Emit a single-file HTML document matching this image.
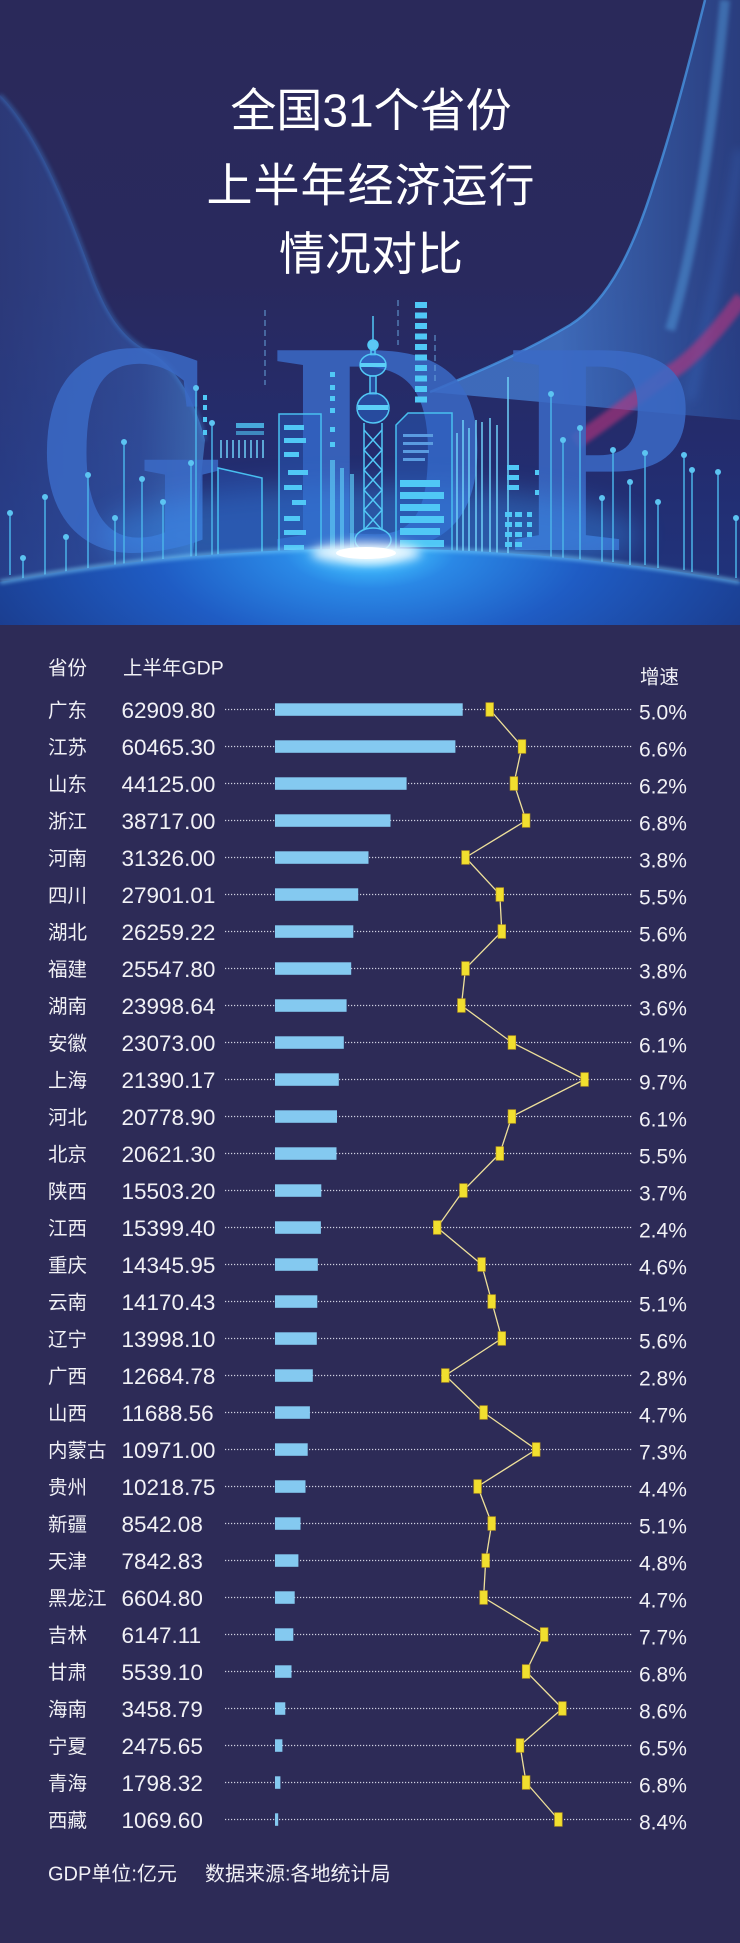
<!DOCTYPE html>
<html><head><meta charset="utf-8">
<style>
html,body{margin:0;padding:0;background:#2d2b57;}
svg{display:block;}
</style></head><body>
<svg width="740" height="1943" viewBox="0 0 740 1943" xmlns="http://www.w3.org/2000/svg">
<defs>
<style>
.t{font-family:"Liberation Sans","Noto Sans CJK SC",sans-serif;fill:#ffffff;}
.p{font-family:"Liberation Sans","Noto Sans CJK SC",sans-serif;font-size:19.5px;fill:#f1f1f6;}
.n{font-family:"Liberation Sans","Noto Sans CJK SC",sans-serif;font-size:22.5px;fill:#f1f1f6;}
.g{font-family:"Liberation Sans","Noto Sans CJK SC",sans-serif;font-size:21px;fill:#f1f1f6;}
.d{stroke:#cfd0e2;stroke-width:1.2;stroke-dasharray:1.2 1.8;}
.b{fill:#84c9f0;}
.m{fill:#f1df2f;stroke:#c4a21e;stroke-width:.7;}
.pin{stroke:#4ab2e8;stroke-width:1.5;}
.pd{fill:#5cc4f2;}
.w{fill:#50c8f6;}
</style>
<linearGradient id="hbg" x1="0" y1="0" x2="0" y2="626" gradientUnits="userSpaceOnUse">
<stop offset="0" stop-color="#2a295a"/>
<stop offset="0.45" stop-color="#29295e"/>
<stop offset="0.75" stop-color="#232d70"/>
<stop offset="1" stop-color="#1f3580"/>
</linearGradient>
<radialGradient id="ground" gradientUnits="userSpaceOnUse" cx="370" cy="550" r="430" gradientTransform="translate(370,550) scale(1,0.45) translate(-370,-550)">
<stop offset="0" stop-color="#ffffff"/>
<stop offset="0.04" stop-color="#8fe0ff"/>
<stop offset="0.1" stop-color="#3ab0f8"/>
<stop offset="0.2" stop-color="#2a88e6"/>
<stop offset="0.5" stop-color="#1f5cc4"/>
<stop offset="1" stop-color="#1a3a8a"/>
</radialGradient>
<linearGradient id="lw" x1="0" y1="0" x2="200" y2="0" gradientUnits="userSpaceOnUse">
<stop offset="0" stop-color="#3050a0" stop-opacity="0.4"/>
<stop offset="0.7" stop-color="#3a68c0" stop-opacity="0.5"/>
<stop offset="1" stop-color="#4a8ad8" stop-opacity="0.6"/>
</linearGradient>
<linearGradient id="rw" x1="560" y1="0" x2="740" y2="0" gradientUnits="userSpaceOnUse">
<stop offset="0" stop-color="#4a8ce6" stop-opacity="0.65"/>
<stop offset="0.45" stop-color="#3c78d0" stop-opacity="0.55"/>
<stop offset="1" stop-color="#2a56aa" stop-opacity="0.45"/>
</linearGradient>
<filter id="bl2" x="-20%" y="-20%" width="140%" height="140%"><feGaussianBlur stdDeviation="2"/></filter>
<filter id="bl5" x="-50%" y="-50%" width="200%" height="200%"><feGaussianBlur stdDeviation="5"/></filter>
<filter id="bl14" x="-50%" y="-80%" width="200%" height="260%"><feGaussianBlur stdDeviation="14"/></filter>
<clipPath id="hc"><rect x="0" y="0" width="740" height="625"/></clipPath>
</defs>

<rect width="740" height="1943" fill="#2d2b57"/>

<!-- ========== HEADER ========== -->
<g clip-path="url(#hc)">
<rect x="0" y="0" width="740" height="626" fill="url(#hbg)"/>

<!-- left mesh wave -->
<path d="M0,95 C35,130 65,200 92,275 C108,318 125,340 150,352 C175,365 195,400 205,440 L190,580 L0,580 Z" fill="url(#lw)"/>
<path d="M0,95 C35,130 65,200 92,275 C108,318 125,340 150,352 C175,365 195,400 205,440" fill="none" stroke="#3f86d8" stroke-width="2.5" opacity="0.7" filter="url(#bl2)"/>

<!-- right mesh wave -->
<path d="M705,0 C690,60 672,130 655,180 C635,245 610,300 570,325 C520,355 470,375 430,392 L740,420 L740,0 Z" fill="url(#rw)"/>
<path d="M705,0 C690,60 672,130 655,180 C635,245 610,300 570,325 C520,355 470,375 430,392" fill="none" stroke="#4a9ae8" stroke-width="2.5" opacity="0.75"/>
<path d="M725,0 C715,100 700,230 670,330" fill="none" stroke="#5ab0f0" stroke-width="10" opacity="0.4" filter="url(#bl2)"/>
<path d="M740,150 C725,250 705,330 690,400" fill="none" stroke="#3a70c8" stroke-width="10" opacity="0.3" filter="url(#bl5)"/>

<!-- pink ribbon -->
<path d="M575,442 C620,412 650,386 680,366 C705,346 725,320 742,298" fill="none" stroke="#c8347e" stroke-width="15" opacity="0.55" filter="url(#bl2)"/>

<!-- Title -->
<text class="t" x="371" y="126.5" font-size="46" text-anchor="middle">全国31个省份</text>
<text class="t" x="371" y="201.5" font-size="46" text-anchor="middle" letter-spacing="1">上半年经济运行</text>
<text class="t" x="371" y="270" font-size="46" text-anchor="middle">情况对比</text>

<!-- GDP letters -->
<g font-family="'Liberation Serif',serif" font-weight="bold" font-size="305" fill="#3b6ac6" fill-opacity="0.85">
<text transform="translate(35,550) scale(0.8,1)" x="0" y="0">G</text>
<text x="272" y="550">D</text>
<text x="508" y="550">P</text>
</g>

<!-- haze above horizon -->
<ellipse cx="370" cy="535" rx="270" ry="50" fill="#3aa0ff" opacity="0.35" filter="url(#bl14)"/>

<!-- pins -->
<g>
<line class="pin" x1="10" y1="513" x2="10" y2="575"/><circle class="pd" cx="10" cy="513" r="3"/>
<line class="pin" x1="23" y1="558" x2="23" y2="585"/><circle class="pd" cx="23" cy="558" r="3"/>
<line class="pin" x1="45" y1="497" x2="45" y2="575"/><circle class="pd" cx="45" cy="497" r="3"/>
<line class="pin" x1="66" y1="537" x2="66" y2="575"/><circle class="pd" cx="66" cy="537" r="3"/>
<line class="pin" x1="88" y1="475" x2="88" y2="570"/><circle class="pd" cx="88" cy="475" r="3"/>
<line class="pin" x1="124" y1="442" x2="124" y2="565"/><circle class="pd" cx="124" cy="442" r="3"/>
<line class="pin" x1="115" y1="518" x2="115" y2="565"/><circle class="pd" cx="115" cy="518" r="3"/>
<line class="pin" x1="142" y1="479" x2="142" y2="565"/><circle class="pd" cx="142" cy="479" r="3"/>
<line class="pin" x1="163" y1="502" x2="163" y2="560"/><circle class="pd" cx="163" cy="502" r="3"/>
<line class="pin" x1="191" y1="463" x2="191" y2="560"/><circle class="pd" cx="191" cy="463" r="3"/>
<line class="pin" x1="196" y1="388" x2="196" y2="560"/><circle class="pd" cx="196" cy="388" r="3"/>
<line class="pin" x1="212" y1="423" x2="212" y2="560"/><circle class="pd" cx="212" cy="423" r="3"/>
<line class="pin" x1="551" y1="394" x2="551" y2="560"/><circle class="pd" cx="551" cy="394" r="3"/>
<line class="pin" x1="563" y1="440" x2="563" y2="560"/><circle class="pd" cx="563" cy="440" r="3"/>
<line class="pin" x1="580" y1="428" x2="580" y2="560"/><circle class="pd" cx="580" cy="428" r="3"/>
<line class="pin" x1="602" y1="498" x2="602" y2="562"/><circle class="pd" cx="602" cy="498" r="3"/>
<line class="pin" x1="613" y1="450" x2="613" y2="562"/><circle class="pd" cx="613" cy="450" r="3"/>
<line class="pin" x1="630" y1="482" x2="630" y2="565"/><circle class="pd" cx="630" cy="482" r="3"/>
<line class="pin" x1="645" y1="453" x2="645" y2="565"/><circle class="pd" cx="645" cy="453" r="3"/>
<line class="pin" x1="658" y1="502" x2="658" y2="568"/><circle class="pd" cx="658" cy="502" r="3"/>
<line class="pin" x1="684" y1="455" x2="684" y2="570"/><circle class="pd" cx="684" cy="455" r="3"/>
<line class="pin" x1="692" y1="470" x2="692" y2="572"/><circle class="pd" cx="692" cy="470" r="3"/>
<line class="pin" x1="718" y1="472" x2="718" y2="575"/><circle class="pd" cx="718" cy="472" r="3"/>
<line class="pin" x1="736" y1="518" x2="736" y2="578"/><circle class="pd" cx="736" cy="518" r="3"/>
</g>

<!-- dashed vertical lines -->
<g stroke="#6aa8e0" stroke-width="1.2" stroke-dasharray="6 4" opacity="0.8">
<line x1="265" y1="310" x2="265" y2="385"/>
<line x1="398" y1="300" x2="398" y2="345"/>
<line x1="435" y1="335" x2="435" y2="385"/>
</g>

<!-- Building C (left) -->
<path d="M218,560 L218,468 L262,478 L262,560 Z" fill="#2a5cc0" fill-opacity="0.4" stroke="#48bff0" stroke-width="1.5"/>
<g stroke="#6fd0f8" stroke-width="1.5">
<line x1="221" y1="440" x2="221" y2="458"/><line x1="227" y1="440" x2="227" y2="458"/>
<line x1="233" y1="440" x2="233" y2="458"/><line x1="239" y1="440" x2="239" y2="458"/>
<line x1="245" y1="440" x2="245" y2="458"/><line x1="251" y1="440" x2="251" y2="458"/>
<line x1="257" y1="440" x2="257" y2="458"/><line x1="263" y1="440" x2="263" y2="458"/>
</g>
<rect class="w" x="236" y="423" width="28" height="5" opacity="0.8"/>
<rect class="w" x="236" y="431" width="28" height="4" opacity="0.6"/>
<g class="w">
<rect x="203" y="395" width="4" height="5"/><rect x="203" y="405" width="4" height="5"/>
<rect x="203" y="417" width="4" height="5"/><rect x="203" y="430" width="4" height="5"/>
</g>

<!-- Building A -->
<rect x="279" y="414" width="42" height="150" fill="#2a5fc0" fill-opacity="0.45" stroke="#48bff0" stroke-width="1.5"/>
<g class="w">
<rect x="284" y="425" width="20" height="5"/>
<rect x="284" y="438" width="22" height="5"/>
<rect x="284" y="452" width="15" height="5"/>
<rect x="288" y="470" width="20" height="5"/>
<rect x="284" y="485" width="18" height="5"/>
<rect x="292" y="500" width="14" height="5"/>
<rect x="284" y="516" width="16" height="5"/>
<rect x="284" y="530" width="22" height="5"/>
<rect x="284" y="545" width="20" height="5"/>
</g>
<!-- window column -->
<g class="w">
<rect x="330" y="372" width="5" height="5"/><rect x="330" y="385" width="5" height="5"/>
<rect x="330" y="396" width="5" height="5"/><rect x="330" y="408" width="5" height="5"/>
<rect x="330" y="427" width="5" height="5"/><rect x="330" y="442" width="5" height="5"/>
</g>
<g fill="#5cc8f4" opacity="0.7">
<rect x="330" y="460" width="5" height="100"/>
<rect x="340" y="468" width="4" height="92"/>
<rect x="350" y="474" width="4" height="86"/>
</g>

<!-- Tower -->
<g stroke="#52c8f6" stroke-width="1.5" fill="#2a66c8" fill-opacity="0.55">
<line x1="373" y1="316" x2="373" y2="340"/>
<circle cx="373" cy="345" r="5" fill="#5cc8f4" fill-opacity="1"/>
<rect x="371" y="350" width="4" height="5"/>
<ellipse cx="373" cy="365" rx="13" ry="11"/>
<rect x="370" y="376" width="6" height="18"/>
<ellipse cx="373" cy="408" rx="16" ry="15"/>
<line x1="364" y1="423" x2="364" y2="530"/>
<line x1="382" y1="423" x2="382" y2="530"/>
<path d="M364,430 L382,450 L364,470 L382,490 L364,510 L382,530 M382,430 L364,450 L382,470 L364,490 L382,510 L364,530" fill="none"/>
<ellipse cx="373" cy="540" rx="18" ry="12"/>
</g>
<rect x="360" y="363" width="26" height="4" fill="#5cd0f8"/>
<rect x="358" y="405" width="30" height="5" fill="#5cd0f8"/>

<!-- Window stack -->
<g class="w">
<rect x="415" y="302" width="12" height="6"/><rect x="415" y="312.5" width="12" height="6"/>
<rect x="415" y="323" width="12" height="6"/><rect x="415" y="333.5" width="12" height="6"/>
<rect x="415" y="344" width="12" height="6"/><rect x="415" y="354.5" width="12" height="6"/>
<rect x="415" y="365" width="12" height="6"/><rect x="415" y="375.5" width="12" height="6"/>
<rect x="415" y="386" width="12" height="6"/><rect x="415" y="396.5" width="12" height="6"/>
</g>

<!-- Building B -->
<path d="M396,562 L396,425 L408,413 L452,413 L452,562 Z" fill="#2a62c4" fill-opacity="0.45" stroke="#48bff0" stroke-width="1.5"/>
<g fill="#5a9be0">
<rect x="403" y="434" width="30" height="3"/><rect x="403" y="442" width="30" height="3"/>
<rect x="403" y="450" width="26" height="3"/><rect x="403" y="458" width="22" height="3"/>
</g>
<g class="w">
<rect x="400" y="480" width="40" height="7"/><rect x="400" y="492" width="44" height="7"/>
<rect x="400" y="504" width="40" height="7"/><rect x="400" y="516" width="44" height="7"/>
<rect x="400" y="528" width="40" height="7"/><rect x="400" y="540" width="44" height="7"/>
<rect x="400" y="552" width="40" height="7"/>
</g>
<!-- line cluster -->
<g stroke="#6fd0f8" stroke-width="1.5">
<line x1="457" y1="433" x2="457" y2="560"/><line x1="463" y1="420" x2="463" y2="560"/>
<line x1="469" y1="428" x2="469" y2="560"/><line x1="476" y1="420" x2="476" y2="560"/>
<line x1="482" y1="422" x2="482" y2="560"/><line x1="490" y1="418" x2="490" y2="560"/>
<line x1="497" y1="425" x2="497" y2="560"/>
<line x1="508" y1="377" x2="508" y2="560"/>
</g>
<!-- Building D -->
<g class="w">
<rect x="507" y="465" width="12" height="5"/><rect x="507" y="475" width="12" height="5"/>
<rect x="507" y="485" width="12" height="5"/>
<rect x="505" y="512" width="7" height="5"/><rect x="515" y="512" width="7" height="5"/><rect x="527" y="512" width="5" height="5"/>
<rect x="505" y="522" width="7" height="5"/><rect x="515" y="522" width="7" height="5"/><rect x="527" y="522" width="5" height="5"/>
<rect x="505" y="532" width="7" height="5"/><rect x="515" y="532" width="7" height="5"/><rect x="527" y="532" width="5" height="5"/>
<rect x="505" y="542" width="7" height="5"/><rect x="515" y="542" width="7" height="5"/>
<rect x="535" y="470" width="4" height="5"/><rect x="535" y="490" width="4" height="5"/>
</g>

<!-- ground -->
<path d="M0,582 Q370,515 740,582 L740,630 L0,630 Z" fill="url(#ground)"/>
<path d="M0,582 Q370,515 740,582" fill="none" stroke="#7fd8ff" stroke-width="3" opacity="0.8" filter="url(#bl2)"/>
<ellipse cx="366" cy="553" rx="55" ry="11" fill="#ffffff" opacity="0.85" filter="url(#bl5)"/>
<ellipse cx="366" cy="553" rx="30" ry="6" fill="#ffffff"/>
</g>

<!-- ========== CHART ========== -->
<text class="p" x="48" y="674.4">省份</text>
<text class="p" x="123" y="674.4">上半年GDP</text>
<text class="p" x="640" y="683.4">增速</text>

<g transform="translate(0,709.5)"><line class="d" x1="225" y1="0" x2="632" y2="0"/><rect class="b" x="275" y="-6.2" width="187.7" height="12.5"/><text class="p" x="48" y="7.4">广东</text><text class="n" x="121.5" y="8.5">62909.80</text><text class="g" x="639" y="9.8">5.0%</text></g>
<g transform="translate(0,746.5)"><line class="d" x1="225" y1="0" x2="632" y2="0"/><rect class="b" x="275" y="-6.2" width="180.4" height="12.5"/><text class="p" x="48" y="7.4">江苏</text><text class="n" x="121.5" y="8.5">60465.30</text><text class="g" x="639" y="9.8">6.6%</text></g>
<g transform="translate(0,783.5)"><line class="d" x1="225" y1="0" x2="632" y2="0"/><rect class="b" x="275" y="-6.2" width="131.6" height="12.5"/><text class="p" x="48" y="7.4">山东</text><text class="n" x="121.5" y="8.5">44125.00</text><text class="g" x="639" y="9.8">6.2%</text></g>
<g transform="translate(0,820.5)"><line class="d" x1="225" y1="0" x2="632" y2="0"/><rect class="b" x="275" y="-6.2" width="115.5" height="12.5"/><text class="p" x="48" y="7.4">浙江</text><text class="n" x="121.5" y="8.5">38717.00</text><text class="g" x="639" y="9.8">6.8%</text></g>
<g transform="translate(0,857.5)"><line class="d" x1="225" y1="0" x2="632" y2="0"/><rect class="b" x="275" y="-6.2" width="93.5" height="12.5"/><text class="p" x="48" y="7.4">河南</text><text class="n" x="121.5" y="8.5">31326.00</text><text class="g" x="639" y="9.8">3.8%</text></g>
<g transform="translate(0,894.5)"><line class="d" x1="225" y1="0" x2="632" y2="0"/><rect class="b" x="275" y="-6.2" width="83.2" height="12.5"/><text class="p" x="48" y="7.4">四川</text><text class="n" x="121.5" y="8.5">27901.01</text><text class="g" x="639" y="9.8">5.5%</text></g>
<g transform="translate(0,931.5)"><line class="d" x1="225" y1="0" x2="632" y2="0"/><rect class="b" x="275" y="-6.2" width="78.3" height="12.5"/><text class="p" x="48" y="7.4">湖北</text><text class="n" x="121.5" y="8.5">26259.22</text><text class="g" x="639" y="9.8">5.6%</text></g>
<g transform="translate(0,968.5)"><line class="d" x1="225" y1="0" x2="632" y2="0"/><rect class="b" x="275" y="-6.2" width="76.2" height="12.5"/><text class="p" x="48" y="7.4">福建</text><text class="n" x="121.5" y="8.5">25547.80</text><text class="g" x="639" y="9.8">3.8%</text></g>
<g transform="translate(0,1005.5)"><line class="d" x1="225" y1="0" x2="632" y2="0"/><rect class="b" x="275" y="-6.2" width="71.6" height="12.5"/><text class="p" x="48" y="7.4">湖南</text><text class="n" x="121.5" y="8.5">23998.64</text><text class="g" x="639" y="9.8">3.6%</text></g>
<g transform="translate(0,1042.5)"><line class="d" x1="225" y1="0" x2="632" y2="0"/><rect class="b" x="275" y="-6.2" width="68.8" height="12.5"/><text class="p" x="48" y="7.4">安徽</text><text class="n" x="121.5" y="8.5">23073.00</text><text class="g" x="639" y="9.8">6.1%</text></g>
<g transform="translate(0,1079.5)"><line class="d" x1="225" y1="0" x2="632" y2="0"/><rect class="b" x="275" y="-6.2" width="63.8" height="12.5"/><text class="p" x="48" y="7.4">上海</text><text class="n" x="121.5" y="8.5">21390.17</text><text class="g" x="639" y="9.8">9.7%</text></g>
<g transform="translate(0,1116.5)"><line class="d" x1="225" y1="0" x2="632" y2="0"/><rect class="b" x="275" y="-6.2" width="62.0" height="12.5"/><text class="p" x="48" y="7.4">河北</text><text class="n" x="121.5" y="8.5">20778.90</text><text class="g" x="639" y="9.8">6.1%</text></g>
<g transform="translate(0,1153.5)"><line class="d" x1="225" y1="0" x2="632" y2="0"/><rect class="b" x="275" y="-6.2" width="61.5" height="12.5"/><text class="p" x="48" y="7.4">北京</text><text class="n" x="121.5" y="8.5">20621.30</text><text class="g" x="639" y="9.8">5.5%</text></g>
<g transform="translate(0,1190.5)"><line class="d" x1="225" y1="0" x2="632" y2="0"/><rect class="b" x="275" y="-6.2" width="46.3" height="12.5"/><text class="p" x="48" y="7.4">陕西</text><text class="n" x="121.5" y="8.5">15503.20</text><text class="g" x="639" y="9.8">3.7%</text></g>
<g transform="translate(0,1227.5)"><line class="d" x1="225" y1="0" x2="632" y2="0"/><rect class="b" x="275" y="-6.2" width="45.9" height="12.5"/><text class="p" x="48" y="7.4">江西</text><text class="n" x="121.5" y="8.5">15399.40</text><text class="g" x="639" y="9.8">2.4%</text></g>
<g transform="translate(0,1264.5)"><line class="d" x1="225" y1="0" x2="632" y2="0"/><rect class="b" x="275" y="-6.2" width="42.8" height="12.5"/><text class="p" x="48" y="7.4">重庆</text><text class="n" x="121.5" y="8.5">14345.95</text><text class="g" x="639" y="9.8">4.6%</text></g>
<g transform="translate(0,1301.5)"><line class="d" x1="225" y1="0" x2="632" y2="0"/><rect class="b" x="275" y="-6.2" width="42.3" height="12.5"/><text class="p" x="48" y="7.4">云南</text><text class="n" x="121.5" y="8.5">14170.43</text><text class="g" x="639" y="9.8">5.1%</text></g>
<g transform="translate(0,1338.5)"><line class="d" x1="225" y1="0" x2="632" y2="0"/><rect class="b" x="275" y="-6.2" width="41.8" height="12.5"/><text class="p" x="48" y="7.4">辽宁</text><text class="n" x="121.5" y="8.5">13998.10</text><text class="g" x="639" y="9.8">5.6%</text></g>
<g transform="translate(0,1375.5)"><line class="d" x1="225" y1="0" x2="632" y2="0"/><rect class="b" x="275" y="-6.2" width="37.8" height="12.5"/><text class="p" x="48" y="7.4">广西</text><text class="n" x="121.5" y="8.5">12684.78</text><text class="g" x="639" y="9.8">2.8%</text></g>
<g transform="translate(0,1412.5)"><line class="d" x1="225" y1="0" x2="632" y2="0"/><rect class="b" x="275" y="-6.2" width="34.9" height="12.5"/><text class="p" x="48" y="7.4">山西</text><text class="n" x="121.5" y="8.5">11688.56</text><text class="g" x="639" y="9.8">4.7%</text></g>
<g transform="translate(0,1449.5)"><line class="d" x1="225" y1="0" x2="632" y2="0"/><rect class="b" x="275" y="-6.2" width="32.7" height="12.5"/><text class="p" x="48" y="7.4">内蒙古</text><text class="n" x="121.5" y="8.5">10971.00</text><text class="g" x="639" y="9.8">7.3%</text></g>
<g transform="translate(0,1486.5)"><line class="d" x1="225" y1="0" x2="632" y2="0"/><rect class="b" x="275" y="-6.2" width="30.5" height="12.5"/><text class="p" x="48" y="7.4">贵州</text><text class="n" x="121.5" y="8.5">10218.75</text><text class="g" x="639" y="9.8">4.4%</text></g>
<g transform="translate(0,1523.5)"><line class="d" x1="225" y1="0" x2="632" y2="0"/><rect class="b" x="275" y="-6.2" width="25.5" height="12.5"/><text class="p" x="48" y="7.4">新疆</text><text class="n" x="121.5" y="8.5">8542.08</text><text class="g" x="639" y="9.8">5.1%</text></g>
<g transform="translate(0,1560.5)"><line class="d" x1="225" y1="0" x2="632" y2="0"/><rect class="b" x="275" y="-6.2" width="23.4" height="12.5"/><text class="p" x="48" y="7.4">天津</text><text class="n" x="121.5" y="8.5">7842.83</text><text class="g" x="639" y="9.8">4.8%</text></g>
<g transform="translate(0,1597.5)"><line class="d" x1="225" y1="0" x2="632" y2="0"/><rect class="b" x="275" y="-6.2" width="19.7" height="12.5"/><text class="p" x="48" y="7.4">黑龙江</text><text class="n" x="121.5" y="8.5">6604.80</text><text class="g" x="639" y="9.8">4.7%</text></g>
<g transform="translate(0,1634.5)"><line class="d" x1="225" y1="0" x2="632" y2="0"/><rect class="b" x="275" y="-6.2" width="18.3" height="12.5"/><text class="p" x="48" y="7.4">吉林</text><text class="n" x="121.5" y="8.5">6147.11</text><text class="g" x="639" y="9.8">7.7%</text></g>
<g transform="translate(0,1671.5)"><line class="d" x1="225" y1="0" x2="632" y2="0"/><rect class="b" x="275" y="-6.2" width="16.5" height="12.5"/><text class="p" x="48" y="7.4">甘肃</text><text class="n" x="121.5" y="8.5">5539.10</text><text class="g" x="639" y="9.8">6.8%</text></g>
<g transform="translate(0,1708.5)"><line class="d" x1="225" y1="0" x2="632" y2="0"/><rect class="b" x="275" y="-6.2" width="10.3" height="12.5"/><text class="p" x="48" y="7.4">海南</text><text class="n" x="121.5" y="8.5">3458.79</text><text class="g" x="639" y="9.8">8.6%</text></g>
<g transform="translate(0,1745.5)"><line class="d" x1="225" y1="0" x2="632" y2="0"/><rect class="b" x="275" y="-6.2" width="7.4" height="12.5"/><text class="p" x="48" y="7.4">宁夏</text><text class="n" x="121.5" y="8.5">2475.65</text><text class="g" x="639" y="9.8">6.5%</text></g>
<g transform="translate(0,1782.5)"><line class="d" x1="225" y1="0" x2="632" y2="0"/><rect class="b" x="275" y="-6.2" width="5.4" height="12.5"/><text class="p" x="48" y="7.4">青海</text><text class="n" x="121.5" y="8.5">1798.32</text><text class="g" x="639" y="9.8">6.8%</text></g>
<g transform="translate(0,1819.5)"><line class="d" x1="225" y1="0" x2="632" y2="0"/><rect class="b" x="275" y="-6.2" width="3.2" height="12.5"/><text class="p" x="48" y="7.4">西藏</text><text class="n" x="121.5" y="8.5">1069.60</text><text class="g" x="639" y="9.8">8.4%</text></g>

<!-- growth line -->
<polyline fill="none" stroke="#eee09a" stroke-width="1.3" points="489.7,709.5 522.0,746.5 513.9,783.5 526.1,820.5 465.5,857.5 499.8,894.5 501.8,931.5 465.5,968.5 461.4,1005.5 511.9,1042.5 584.6,1079.5 511.9,1116.5 499.8,1153.5 463.4,1190.5 437.2,1227.5 481.6,1264.5 491.7,1301.5 501.8,1338.5 445.3,1375.5 483.6,1412.5 536.2,1449.5 477.6,1486.5 491.7,1523.5 485.7,1560.5 483.6,1597.5 544.2,1634.5 526.1,1671.5 562.4,1708.5 520.0,1745.5 526.1,1782.5 558.4,1819.5"/>

<!-- markers -->
<g>
<rect class="m" x="485.9" y="702.7" width="7.6" height="13.6"/>
<rect class="m" x="518.2" y="739.7" width="7.6" height="13.6"/>
<rect class="m" x="510.1" y="776.7" width="7.6" height="13.6"/>
<rect class="m" x="522.3" y="813.7" width="7.6" height="13.6"/>
<rect class="m" x="461.7" y="850.7" width="7.6" height="13.6"/>
<rect class="m" x="496.0" y="887.7" width="7.6" height="13.6"/>
<rect class="m" x="498.0" y="924.7" width="7.6" height="13.6"/>
<rect class="m" x="461.7" y="961.7" width="7.6" height="13.6"/>
<rect class="m" x="457.6" y="998.7" width="7.6" height="13.6"/>
<rect class="m" x="508.1" y="1035.7" width="7.6" height="13.6"/>
<rect class="m" x="580.8" y="1072.7" width="7.6" height="13.6"/>
<rect class="m" x="508.1" y="1109.7" width="7.6" height="13.6"/>
<rect class="m" x="496.0" y="1146.7" width="7.6" height="13.6"/>
<rect class="m" x="459.6" y="1183.7" width="7.6" height="13.6"/>
<rect class="m" x="433.4" y="1220.7" width="7.6" height="13.6"/>
<rect class="m" x="477.8" y="1257.7" width="7.6" height="13.6"/>
<rect class="m" x="487.9" y="1294.7" width="7.6" height="13.6"/>
<rect class="m" x="498.0" y="1331.7" width="7.6" height="13.6"/>
<rect class="m" x="441.5" y="1368.7" width="7.6" height="13.6"/>
<rect class="m" x="479.8" y="1405.7" width="7.6" height="13.6"/>
<rect class="m" x="532.4" y="1442.7" width="7.6" height="13.6"/>
<rect class="m" x="473.8" y="1479.7" width="7.6" height="13.6"/>
<rect class="m" x="487.9" y="1516.7" width="7.6" height="13.6"/>
<rect class="m" x="481.9" y="1553.7" width="7.6" height="13.6"/>
<rect class="m" x="479.8" y="1590.7" width="7.6" height="13.6"/>
<rect class="m" x="540.4" y="1627.7" width="7.6" height="13.6"/>
<rect class="m" x="522.3" y="1664.7" width="7.6" height="13.6"/>
<rect class="m" x="558.6" y="1701.7" width="7.6" height="13.6"/>
<rect class="m" x="516.2" y="1738.7" width="7.6" height="13.6"/>
<rect class="m" x="522.3" y="1775.7" width="7.6" height="13.6"/>
<rect class="m" x="554.6" y="1812.7" width="7.6" height="13.6"/>
</g>

<!-- footer -->
<text class="p" x="48" y="1880.6" style="font-size:20px">GDP单位:亿元</text>
<text class="p" x="205" y="1880.6" style="font-size:20px">数据来源:各地统计局</text>
</svg>
</body></html>
